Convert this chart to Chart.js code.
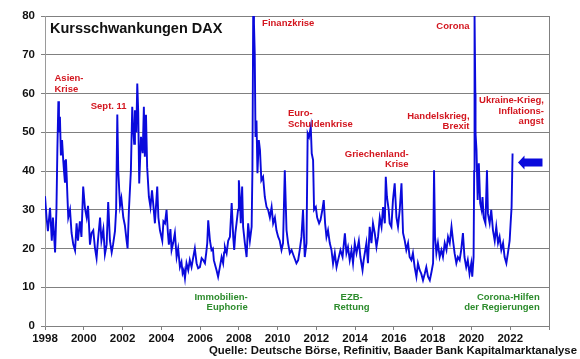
<!DOCTYPE html>
<html>
<head>
<meta charset="utf-8">
<script src="https://cdn.jsdelivr.net/npm/chart.js@4.4.1/dist/chart.umd.min.js"></script>
<style>
html,body{margin:0;padding:0;background:#fff;}
#c{display:block;}
</style>
</head>
<body>
<canvas id="c" width="580" height="359"></canvas>
<script>
// Decimal years (x) and VDAX volatility values (y)
const years = [
1998.00,1998.08,1998.15,1998.26,1998.35,1998.41,1998.46,1998.52,1998.59,1998.64,1998.69,1998.72,1998.77,1998.82,1998.88,1998.94,1998.98,
1999.03,1999.08,1999.12,1999.16,1999.20,1999.29,1999.37,1999.46,1999.55,1999.63,1999.70,1999.80,1999.88,1999.97,
2000.06,2000.15,2000.22,2000.32,2000.40,2000.49,2000.58,2000.66,2000.73,2000.84,2000.91,
2001.01,2001.09,2001.18,2001.26,2001.35,2001.44,2001.51,2001.61,2001.67,2001.73,2001.78,2001.87,2001.94,
2002.04,2002.12,2002.21,2002.26,2002.33,2002.43,2002.50,2002.55,2002.60,2002.64,2002.71,2002.76,2002.81,2002.86,2002.95,
2003.04,2003.10,2003.15,2003.21,2003.27,2003.36,2003.44,2003.52,2003.58,2003.67,2003.79,2003.85,2003.93,
2004.05,2004.11,2004.19,2004.27,2004.34,2004.39,2004.47,2004.53,2004.61,2004.70,2004.79,2004.87,2004.96,
2005.04,2005.10,2005.16,2005.22,2005.30,2005.39,2005.47,2005.56,2005.64,2005.73,2005.82,2005.90,2005.99,
2006.08,2006.16,2006.25,2006.32,2006.37,2006.42,2006.51,2006.59,2006.66,2006.71,2006.79,2006.85,2006.93,
2007.02,2007.11,2007.19,2007.24,2007.28,2007.37,2007.45,2007.54,2007.63,2007.71,2007.76,2007.82,2007.88,2007.96,
2008.00,2008.05,2008.10,2008.17,2008.22,2008.31,2008.40,2008.48,2008.57,2008.66,2008.70,2008.74,2008.78,2008.82,2008.86,2008.91,2008.96,
2009.03,2009.09,2009.16,2009.25,2009.34,2009.43,2009.51,2009.60,2009.69,2009.77,2009.86,2009.94,
2010.03,2010.11,2010.20,2010.28,2010.37,2010.46,2010.54,2010.63,2010.72,2010.85,2010.97,
2011.06,2011.14,2011.23,2011.31,2011.40,2011.49,2011.55,2011.62,2011.71,2011.76,2011.83,2011.88,2011.97,
2012.04,2012.14,2012.21,2012.31,2012.38,2012.45,2012.52,2012.60,2012.69,2012.78,2012.86,2012.95,
2013.04,2013.12,2013.24,2013.35,2013.47,2013.55,2013.63,2013.72,2013.81,2013.89,2013.98,
2014.07,2014.19,2014.27,2014.38,2014.44,2014.58,2014.66,2014.75,2014.84,2014.92,
2015.01,2015.10,2015.18,2015.27,2015.36,2015.44,2015.53,2015.58,2015.64,2015.73,2015.78,2015.87,2015.95,
2016.04,2016.13,2016.21,2016.30,2016.39,2016.47,2016.56,2016.64,2016.73,2016.81,2016.90,2016.98,
2017.07,2017.16,2017.24,2017.33,2017.41,2017.50,2017.59,2017.67,2017.76,2017.85,2017.94,
2018.02,2018.07,2018.12,2018.19,2018.27,2018.36,2018.45,2018.53,2018.62,2018.71,2018.79,2018.88,2018.97,
2019.05,2019.13,2019.22,2019.30,2019.39,2019.47,2019.56,2019.64,2019.73,2019.81,2019.90,2019.99,
2020.04,2020.11,2020.14,2020.16,2020.20,2020.21,2020.26,2020.32,2020.38,2020.45,2020.52,2020.57,2020.63,2020.72,2020.80,2020.85,2020.94,
2021.02,2021.11,2021.20,2021.28,2021.37,2021.45,2021.54,2021.63,2021.71,2021.80,2021.88,2021.97,
2022.02,2022.07,2022.12
];
const vdax = [
33.5,28,24.5,30.5,22,28,24,19,30,46,58,50,54,44,48,42.8,40,
37,43,38.5,33,28,30,24,21,19.5,26.5,22,27,23,36,
30.5,28,31,21,24,24.7,20,17.5,22,28,22,
25,18.5,21,32,22,19,21,24.5,30,54.6,40,31,33,
28,26,22,20,30,40,56.6,51.4,47,55.7,50,62.6,55,36.8,48.8,
44.6,56.6,43.7,54.5,41,33.3,30.7,35,31.7,26.5,36,28,24.7,
22,27,26.5,30,24,21,25,19.6,21.4,24,17.8,20,15.2,
16.5,13.6,14.5,12.3,16.2,14.4,17,15.2,17.5,20,16.2,14.9,15.2,
17.5,17,16.2,19,21.4,27.3,22,19.6,20,17,15.5,14.4,12.7,
15.2,17.8,16.2,19,20.4,18.8,22,23,31.7,23,19.6,24,26.5,30,
37.6,33.3,26.5,36,25.6,21.4,17.8,26.5,22,25.6,40,80,78,70.4,48.8,53,39.4,
48,45.4,37.6,38.5,33.3,30.7,30,28,30.7,26.5,28,24.7,
23,22,19.6,21.4,40.2,24.7,21.4,18.8,19.6,17.8,16.2,
17,19.6,23,30,17.8,21.4,49.7,48.8,51.4,44.5,42.8,30,30.7,
28,26.5,27.3,30,32.5,26.5,23,24.7,21.4,19.6,16.1,18.8,
15.2,17,19.6,17.8,23.9,18.8,20.4,17,19.6,16.2,21.4,
18.8,22,17.8,14.4,17,21.4,16.2,25.6,21.4,26.5,
24,20.4,23,28,25.6,30.7,26.5,38.5,33.3,30,26.5,25.6,32.5,
36.8,28,25.6,30,36.8,24,22,19.6,21.4,17.8,17,18.8,
15.2,12.7,16.2,14.4,13.5,11.8,13.5,15.2,12.7,11.8,14,
16.2,40.2,23,18.8,21.4,17.8,19.6,17.8,21.4,19.6,23,21.4,25.6,
22,18.8,16.2,17.8,17,19.6,24,17.8,15.2,17,13.5,16.2,
12.7,17.8,40,80,60,49.7,45.4,32.5,42,31.7,30,33.3,28,26.5,40.2,29,26.5,
30,24.7,22,25.6,21.4,23,19.6,21.4,17.8,16.2,18.8,22,
26.5,30.7,44.5
];
const xTicks = [1998,2000,2002,2004,2006,2008,2010,2012,2014,2016,2018,2020,2022];
const yTicks = [0,10,20,30,40,50,60,70,80];

const titleText = 'Kursschwankungen DAX';
const sourceText = 'Quelle: Deutsche Börse, Refinitiv, Baader Bank Kapitalmarktanalyse';

const RED = '#d3161f', GREEN = '#2d8c2d';
// annotations anchored in data coordinates (year, value)
const notes = [
  {lines:['Asien-','Krise'], x:1998.49, y:63.1, align:'left', color:RED},
  {lines:['Sept. 11'], x:2000.36, y:56.1, align:'left', color:RED},
  {lines:['Finanzkrise'], x:2009.20, y:77.3, align:'left', color:RED},
  {lines:['Euro-','Schuldenkrise'], x:2010.53, y:54.1, align:'left', color:RED},
  {lines:['Griechenland-','Krise'], x:2016.76, y:43.7, align:'right', color:RED},
  {lines:['Corona'], x:2019.90, y:76.6, align:'right', color:RED},
  {lines:['Handelskrieg,','Brexit'], x:2019.90, y:53.5, align:'right', color:RED},
  {lines:['Ukraine-Krieg,','Inflations-','angst'], x:2023.74, y:57.5, align:'right', color:RED},
  {lines:['Immobilien-','Euphorie'], x:2008.46, y:6.8, align:'right', color:GREEN},
  {lines:['EZB-','Rettung'], x:2013.82, y:6.8, align:'center', color:GREEN},
  {lines:['Corona-Hilfen','der Regierungen'], x:2023.52, y:6.8, align:'right', color:GREEN}
];
const arrowAt = {x:2022.40, y:42.2};

const FONT = "'Liberation Sans', Arial, sans-serif";

const points = years.map((x,i)=>({x:x, y:vdax[i]}));

const decor = {
  id:'decor',
  afterDraw(chart){
    const ctx = chart.ctx, a = chart.chartArea;
    const xs = chart.scales.x, ys = chart.scales.y;
    ctx.save();
    // right border
    ctx.strokeStyle = '#808080'; ctx.lineWidth = 1;
    ctx.beginPath(); ctx.moveTo(Math.round(a.right)+0.5, a.top); ctx.lineTo(Math.round(a.right)+0.5, a.bottom); ctx.stroke();
    // title
    ctx.fillStyle = '#111';
    ctx.font = 'bold 14.5px ' + FONT;
    ctx.textAlign = 'left'; ctx.textBaseline = 'alphabetic';
    ctx.fillText(titleText, a.left + 5, a.top + 16.5);
    // annotations
    ctx.font = 'bold 9.5px ' + FONT;
    notes.forEach(n=>{
      ctx.fillStyle = n.color; ctx.textAlign = n.align;
      const px = xs.getPixelForValue(n.x), py = ys.getPixelForValue(n.y);
      n.lines.forEach((t,i)=>ctx.fillText(t, px, py + i*10.6));
    });
    // arrow
    const tx = xs.getPixelForValue(arrowAt.x), ty = ys.getPixelForValue(arrowAt.y);
    ctx.fillStyle = '#0a0adc';
    ctx.beginPath();
    ctx.moveTo(tx, ty);
    ctx.lineTo(tx+6.5, ty-7);
    ctx.lineTo(tx+6.5, ty-4);
    ctx.lineTo(tx+24.5, ty-4);
    ctx.lineTo(tx+24.5, ty+4);
    ctx.lineTo(tx+6.5, ty+4);
    ctx.lineTo(tx+6.5, ty+7);
    ctx.closePath(); ctx.fill();
    // source
    ctx.fillStyle = '#111';
    ctx.font = 'bold 11.5px ' + FONT;
    ctx.textAlign = 'right';
    ctx.fillText(sourceText, 577, 354, 368);
    ctx.restore();
  }
};

new Chart(document.getElementById('c'), {
  type:'line',
  data:{datasets:[{data:points, borderColor:'#0a0adc', borderWidth:1.9, pointRadius:0, tension:0, fill:false, borderJoinStyle:'miter'}]},
  options:{
    responsive:false, animation:false, devicePixelRatio:1,
    layout:{padding:{top:16, right:31, left:0, bottom:0}},
    plugins:{legend:{display:false}, tooltip:{enabled:false}},
    scales:{
      x:{type:'linear', min:1998, max:2024,
        afterBuildTicks(s){ s.ticks = xTicks.concat([2024]).map(v=>({value:v})); },
        afterFit(s){ s.height = 33; },
        ticks:{autoSkip:false, maxRotation:0, padding:2, color:'#111',
          font:{family:FONT, size:11.5, weight:'bold'},
          callback:v => xTicks.includes(v) ? String(v) : ''},
        grid:{drawOnChartArea:false, drawTicks:true, tickLength:4, color:'#808080'},
        border:{color:'#808080'}
      },
      y:{min:0, max:80,
        afterBuildTicks(s){ s.ticks = yTicks.map(v=>({value:v})); },
        afterFit(s){ s.width = 45; },
        ticks:{padding:6, color:'#111', font:{family:FONT, size:11.5, weight:'bold'},
          callback:v => String(v)},
        grid:{color:'#808080', tickLength:4, drawTicks:true},
        border:{color:'#9a9a9a'}
      }
    }
  },
  plugins:[decor]
});
</script>
</body>
</html>
